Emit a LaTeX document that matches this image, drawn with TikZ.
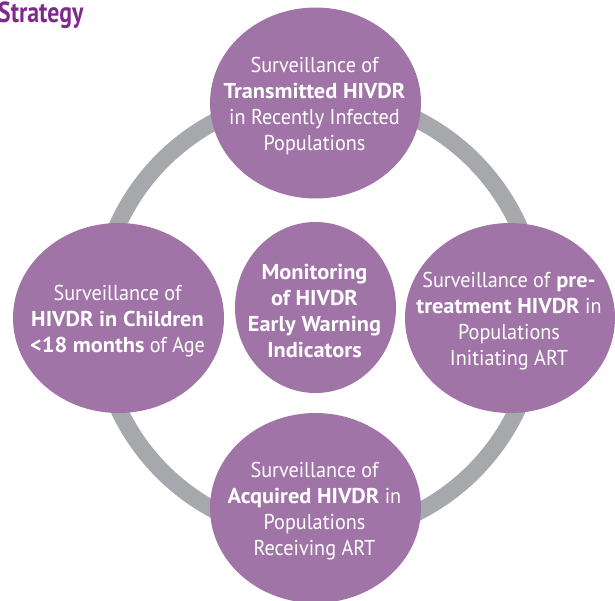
\documentclass[tikz,border=0pt]{standalone}
\usepackage{fontspec}
\setmainfont{PT Sans}[FakeStretch=0.94, BoldFeatures={FakeStretch=1.04}]
\newfontfamily\titlefont{PT Sans}[FakeStretch=0.82, BoldFeatures={FakeStretch=0.82}]
\usetikzlibrary{shapes.geometric}
\definecolor{ringgray}{HTML}{A6A8AB}
\definecolor{discpurple}{HTML}{A174A7}
\definecolor{titlepurple}{HTML}{7D2A8C}
\tikzset{
  disc/.style={ellipse, fill=discpurple, inner sep=0pt},
  disctext/.style={align=center, text=white, inner sep=0pt, xshift=-1pt, yshift=-3pt,
    font=\fontsize{21.5}{26}\selectfont},
}
\begin{document}
\begin{tikzpicture}[x=1pt,y=-1pt]
    \useasboundingbox (0,0) rectangle (615,600);
    \node[anchor=base west, inner sep=0pt, text=titlepurple,
      font=\titlefont\bfseries\fontsize{29}{32}\selectfont] (title) at (-2,22) {Strategy};
    \draw[ringgray, line width=17pt] (318,316) circle (220);
    \node[disc, minimum width=211pt, minimum height=191pt] (transmitted) at (315.5,103) {};
    \node[disc, minimum width=211pt, minimum height=190pt] (children) at (118.5,318) {};
    \node[disc, minimum width=210pt, minimum height=190pt] (pretreatment) at (510,318) {};
    \node[disc, minimum width=211pt, minimum height=190pt] (acquired) at (315.5,508) {};
    \node[disc, minimum width=161pt, minimum height=171pt] (ewi) at (315.5,307.5) {};
    \node[disctext] at (transmitted) {Surveillance of\\ \textbf{Transmitted HIVDR}\\
      in Recently Infected\\ Populations};
    \node[disctext] at (children) {Surveillance of\\ \textbf{HIVDR in Children}\\
      \textbf{<18 months} of Age};
    \node[disctext] at (pretreatment) {Surveillance of \textbf{pre-}\\
      \textbf{treatment HIVDR} in\\ Populations\\ Initiating ART};
    \node[disctext] at (acquired) {Surveillance of\\ \textbf{Acquired HIVDR} in\\
      Populations\\ Receiving ART};
    \node[disctext, font=\bfseries\fontsize{21.5}{26}\selectfont] at (ewi)
      {Monitoring\\ of HIVDR\\ Early Warning\\ Indicators};
  \end{tikzpicture}
\end{document}
